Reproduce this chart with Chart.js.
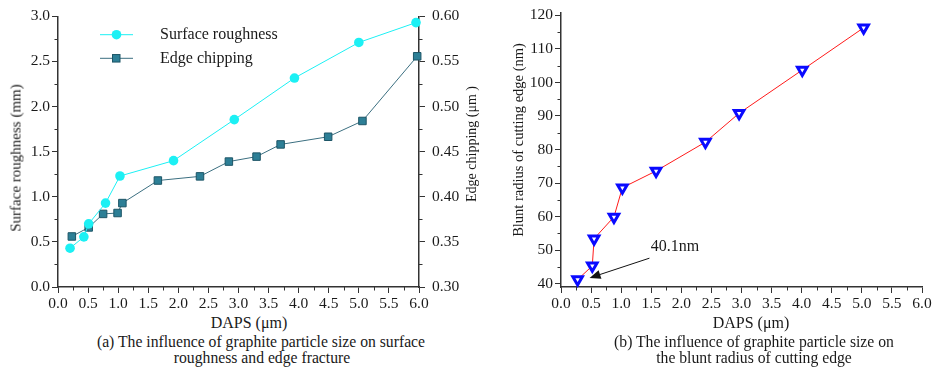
<!DOCTYPE html>
<html>
<head>
<meta charset="utf-8">
<script src="https://cdn.jsdelivr.net/npm/chart.js@4/dist/chart.umd.min.js"></script>
<style>
  html, body { margin: 0; padding: 0; background: #fff; }
  body { width: 936px; height: 367px; position: relative; overflow: hidden; font-family: "Liberation Serif", "Times New Roman", serif; color: #1a1a1a; }
  canvas { position: absolute; top: 0; }
  .t { position: absolute; white-space: nowrap; line-height: 1; transform: translate(-50%, -50%); }
  .v { position: absolute; white-space: nowrap; line-height: 1; transform: translate(-50%, -50%) rotate(-90deg); }
</style>
</head>
<body>
<canvas id="c1" width="480" height="312" style="left:0px"></canvas>
<canvas id="c2" width="466" height="312" style="left:470px"></canvas>

<div class="v" style="left:16px; top:158px; font-size:15px;">Surface roughness (mm)</div>
<div class="v" style="left:472px; top:144px; font-size:14px;">Edge chipping (μm )</div>
<div class="v" style="left:518px; top:140px; font-size:14.5px;">Blunt radius of cutting edge (nm)</div>

<div class="t" style="left:249px; top:323px; font-size:16px;">DAPS (μm)</div>
<div class="t" style="left:751px; top:323px; font-size:16px;">DAPS (μm)</div>

<div class="t" style="left:261px; top:342px; font-size:15.7px;">(a) The influence of graphite particle size on surface</div>
<div class="t" style="left:262px; top:358px; font-size:15.7px;">roughness and edge fracture</div>
<div class="t" style="left:754px; top:342px; font-size:15.7px;">(b) The influence of graphite particle size on</div>
<div class="t" style="left:754px; top:358px; font-size:15.7px;">the blunt radius of cutting edge</div>

<script>
// ---------------- data ----------------
const roughX = [0.20, 0.43, 0.51, 0.79, 1.03, 1.92, 2.93, 3.93, 5.00, 5.95];
const roughY = [0.43, 0.556, 0.70, 0.93, 1.23, 1.40, 1.855, 2.316, 2.71, 2.93];

const chipX = [0.23, 0.51, 0.75, 0.99, 1.07, 1.66, 2.36, 2.84, 3.30, 3.70, 4.49, 5.06, 5.97];
const chipY = [0.356, 0.366, 0.381, 0.382, 0.393, 0.418, 0.4226, 0.439, 0.4445, 0.458, 0.4665, 0.484, 0.5557];

const bluntX = [0.276, 0.52, 0.55, 0.88, 1.02, 1.58, 2.40, 2.96, 4.01, 5.03];
const bluntY = [41.2, 45.3, 53.4, 59.9, 68.6, 73.6, 82.2, 90.8, 103.7, 116.3];

const xTicks = [0, 0.5, 1, 1.5, 2, 2.5, 3, 3.5, 4, 4.5, 5, 5.5, 6];
const roughTicks = [0, 0.5, 1, 1.5, 2, 2.5, 3];
const chipTicks = [0.30, 0.35, 0.40, 0.45, 0.50, 0.55, 0.60];
const bluntTicks = [40, 50, 60, 70, 80, 90, 100, 110, 120];

const seriesNames = ['Surface roughness', 'Edge chipping'];
const annoText = '40.1nm';
const annoFrom = [1.47, 47.6];
const annoTo = [0.475, 41.7];
const annoTextAt = [1.49, 50.9];

// ---------------- styles ----------------
const AXIS = '#333';
const TXT = '#1a1a1a';
const FONT = '"Liberation Serif", "Times New Roman", serif';
const TICK_SIZE = 15.5;
const CYAN = '#1cf0f4';
const TEAL_FILL = '#2d7f96';
const TEAL_LINE = '#3b6f80';
const TEAL_BORDER = '#1d5566';

function pts(xs, ys) { return xs.map((x, i) => ({ x: x, y: ys[i] })); }
function setTicks(list) { return function (axis) { axis.ticks = list.map(v => ({ value: v })); }; }

function axisOpts(extra) {
  return Object.assign({
    type: 'linear',
    grid: { drawOnChartArea: false, drawTicks: true, tickLength: 6, color: AXIS, lineWidth: 1 },
    border: { display: true, color: AXIS, width: 1.5 }
  }, extra);
}
function tickOpts(pad, cb) {
  return { color: TXT, font: { family: FONT, size: TICK_SIZE }, padding: pad, callback: cb, maxRotation: 0, autoSkip: false };
}

// minor tick plugin
const minorTicks = {
  id: 'minorTicks',
  afterDraw(chart) {
    const ctx = chart.ctx;
    ctx.save();
    ctx.strokeStyle = AXIS;
    ctx.lineWidth = 1;
    Object.values(chart.scales).forEach(s => {
      const t = s.ticks.map(k => k.value);
      for (let i = 0; i < t.length - 1; i++) {
        const m = (t[i] + t[i + 1]) / 2;
        const p = Math.round(s.getPixelForValue(m)) + 0.5;
        ctx.beginPath();
        if (s.isHorizontal()) {
          ctx.moveTo(p, s.top); ctx.lineTo(p, s.top + 3.5);
        } else if (s.position === 'left') {
          ctx.moveTo(s.right, p); ctx.lineTo(s.right - 3.5, p);
        } else {
          ctx.moveTo(s.left, p); ctx.lineTo(s.left + 3.5, p);
        }
        ctx.stroke();
      }
    });
    ctx.restore();
  }
};

// legend inside chart (a)
const innerLegend = {
  id: 'innerLegend',
  afterDraw(chart) {
    const ctx = chart.ctx;
    const rows = [34.7, 58.3];
    ctx.save();
    rows.forEach((y, i) => {
      const ds = chart.data.datasets[i];
      ctx.strokeStyle = ds.borderColor;
      ctx.lineWidth = 1;
      ctx.beginPath(); ctx.moveTo(100, y); ctx.lineTo(133, y); ctx.stroke();
      ctx.fillStyle = ds.pointBackgroundColor;
      ctx.strokeStyle = ds.pointBorderColor;
      if (i === 0) {
        ctx.beginPath(); ctx.arc(116.5, y, 4.8, 0, Math.PI * 2); ctx.fill();
      } else {
        ctx.fillRect(112.5, y - 3.75, 7.5, 7.5);
        ctx.lineWidth = 1; ctx.strokeRect(112.5, y - 3.75, 7.5, 7.5);
      }
      ctx.fillStyle = TXT;
      ctx.font = '16px ' + FONT;
      ctx.textBaseline = 'middle';
      ctx.textAlign = 'left';
      ctx.fillText(seriesNames[i], 160, y);
    });
    ctx.restore();
  }
};

// arrow annotation for chart (b)
const arrowAnno = {
  id: 'arrowAnno',
  afterDraw(chart) {
    const ctx = chart.ctx, xs = chart.scales.x, ys = chart.scales.y;
    const x0 = xs.getPixelForValue(annoFrom[0]), y0 = ys.getPixelForValue(annoFrom[1]);
    const x1 = xs.getPixelForValue(annoTo[0]), y1 = ys.getPixelForValue(annoTo[1]);
    const ang = Math.atan2(y1 - y0, x1 - x0);
    const hl = 11, hw = 4.5;
    const bx = x1 - hl * Math.cos(ang), by = y1 - hl * Math.sin(ang);
    ctx.save();
    ctx.strokeStyle = '#111'; ctx.fillStyle = '#111'; ctx.lineWidth = 1;
    ctx.beginPath(); ctx.moveTo(x0, y0); ctx.lineTo(bx, by); ctx.stroke();
    ctx.beginPath();
    ctx.moveTo(x1, y1);
    ctx.lineTo(bx + hw * Math.sin(ang), by - hw * Math.cos(ang));
    ctx.lineTo(bx - hw * Math.sin(ang), by + hw * Math.cos(ang));
    ctx.closePath(); ctx.fill();
    ctx.font = '16px ' + FONT;
    ctx.fillStyle = TXT;
    ctx.textBaseline = 'middle'; ctx.textAlign = 'left';
    ctx.fillText(annoText, xs.getPixelForValue(annoTextAt[0]), ys.getPixelForValue(annoTextAt[1]));
    ctx.restore();
  }
};

const fmt1 = v => Number(v).toFixed(1);
const fmt2 = v => Number(v).toFixed(2);

// ---------------- chart (a) ----------------
new Chart(document.getElementById('c1'), {
  type: 'scatter',
  data: {
    datasets: [
      {
        label: seriesNames[0], data: pts(roughX, roughY), yAxisID: 'y', showLine: true,
        borderColor: CYAN, borderWidth: 1, backgroundColor: CYAN,
        pointBackgroundColor: CYAN, pointBorderColor: CYAN, pointRadius: 4.8, pointBorderWidth: 0,
        pointStyle: 'circle', clip: false
      },
      {
        label: seriesNames[1], data: pts(chipX, chipY), yAxisID: 'y1', showLine: true,
        borderColor: TEAL_LINE, borderWidth: 1, backgroundColor: TEAL_FILL,
        pointBackgroundColor: TEAL_FILL, pointBorderColor: TEAL_BORDER, pointRadius: 5.3, pointBorderWidth: 1,
        pointStyle: 'rect', clip: false
      }
    ]
  },
  options: {
    responsive: false, animation: false, devicePixelRatio: 1,
    layout: { padding: { top: 13, right: 0, bottom: 0, left: 0 } },
    plugins: { legend: { display: false }, tooltip: { enabled: false } },
    scales: {
      x: axisOpts({ position: 'bottom', min: 0, max: 6, afterBuildTicks: setTicks(xTicks),
        afterFit: s => { s.height = 25; }, ticks: tickOpts(2, fmt1) }),
      y: axisOpts({ position: 'left', min: 0, max: 3, afterBuildTicks: setTicks(roughTicks),
        afterFit: s => { s.width = 58; }, ticks: tickOpts(2, fmt1) }),
      y1: axisOpts({ position: 'right', min: 0.30, max: 0.60, afterBuildTicks: setTicks(chipTicks),
        afterFit: s => { s.width = 61; }, ticks: tickOpts(7, fmt2) })
    }
  },
  plugins: [minorTicks, innerLegend]
});

// ---------------- chart (b) ----------------
new Chart(document.getElementById('c2'), {
  type: 'scatter',
  data: {
    datasets: [
      {
        label: 'Blunt radius', data: pts(bluntX, bluntY), showLine: true,
        borderColor: '#ff1a1a', borderWidth: 1, backgroundColor: '#ffffff',
        pointBackgroundColor: '#ffffff', pointBorderColor: '#0a0aff', pointBorderWidth: 3, pointRadius: 5.5,
        pointStyle: 'triangle', pointRotation: 180, clip: false
      }
    ]
  },
  options: {
    responsive: false, animation: false, devicePixelRatio: 1,
    layout: { padding: { top: 13, right: 14, bottom: 0, left: 0 } },
    plugins: { legend: { display: false }, tooltip: { enabled: false } },
    scales: {
      x: axisOpts({ position: 'bottom', min: 0, max: 6, afterBuildTicks: setTicks(xTicks),
        afterFit: s => { s.height = 25; }, ticks: tickOpts(2, fmt1) }),
      y: axisOpts({ position: 'left', min: 39, max: 120.7, afterBuildTicks: setTicks(bluntTicks),
        afterFit: s => { s.width = 91; }, ticks: tickOpts(2, v => String(v)) })
    }
  },
  plugins: [minorTicks, arrowAnno]
});
</script>
</body>
</html>
